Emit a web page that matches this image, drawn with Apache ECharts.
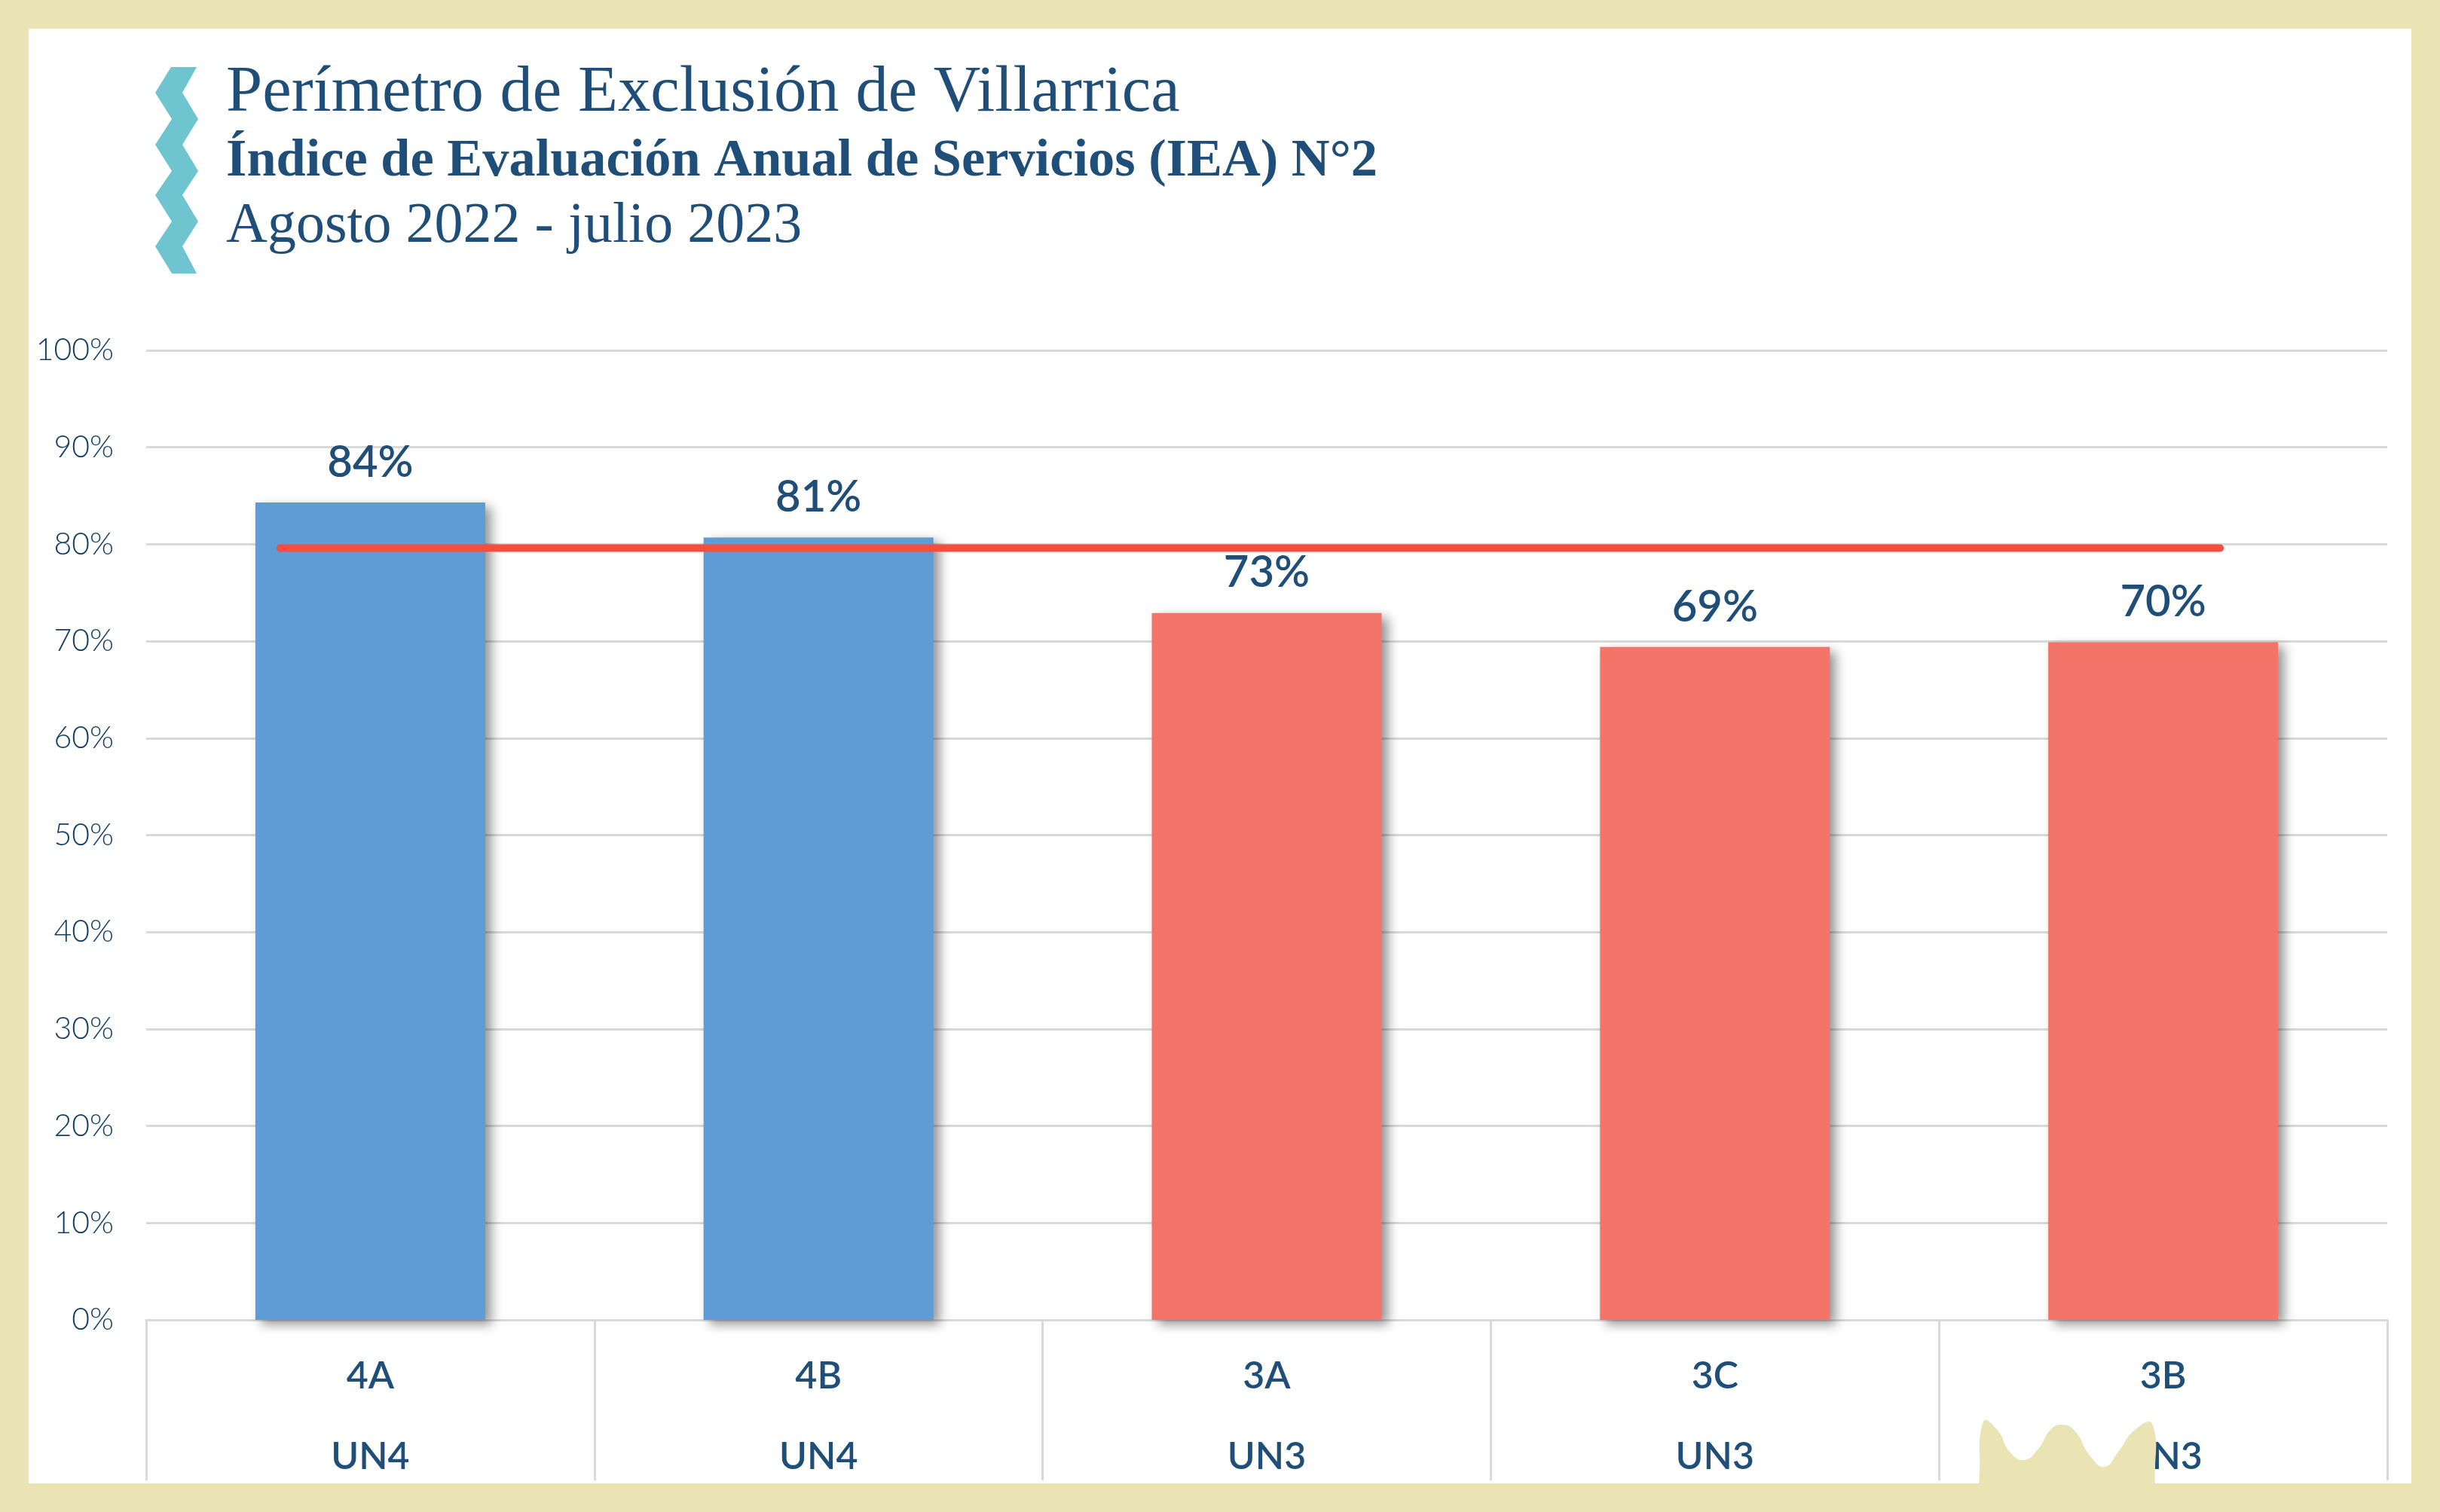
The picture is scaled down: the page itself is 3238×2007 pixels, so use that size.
<!DOCTYPE html>
<html>
<head>
<meta charset="utf-8">
<title>IEA Villarrica</title>
<script src="https://cdn.jsdelivr.net/npm/echarts@6/dist/echarts.min.js"></script>
<style>
html, body { margin: 0; padding: 0; background: #EAE4B5; }
#main { width: 3238px; height: 2007px; }
</style>
</head>
<body>
<div id="main"></div>
<script type="text/javascript">
var titleLines = ['Perímetro de Exclusión de Villarrica', 'Índice de Evaluación Anual de Servicios (IEA) N°2', 'Agosto 2022 - julio 2023'];
var zones = ['4A', '4B', '3A', '3C', '3B'];
var units = ['UN4', 'UN4', 'UN3', 'UN3', 'UN3'];
var iea = [84.3, 80.7, 72.9, 69.4, 69.9];
var targetX = [0.299, 4.627];
var targetY = [79.6, 79.6];

var BLUE = '#5F9BD4', RED = '#F3756A', NAVY = '#1F4E79', GRID = '#D9D9D9', BEIGE = '#EAE4B5';
var SANS = 'Lato, "Noto Sans", sans-serif', SERIF = '"Liberation Serif", serif';

var myChart = echarts.init(document.getElementById('main'), null, { renderer: 'canvas' });

var targetData = [];
for (var i = 0; i < targetX.length; i++) {
	targetData.push([targetX[i], targetY[i]]);
}

var option = {
	backgroundColor: BEIGE,
	animation: false,
	title: [
		{ text: titleLines[0], left: 295, top: 76, textStyle: { color: NAVY, fontFamily: SERIF, fontSize: 86.7, fontWeight: 'normal' } },
		{ text: titleLines[1], left: 295, top: 175, textStyle: { color: NAVY, fontFamily: SERIF, fontSize: 70.4, fontWeight: 'bold' } },
		{ text: titleLines[2], left: 295, top: 258, textStyle: { color: NAVY, fontFamily: SERIF, fontSize: 76, fontWeight: 'normal' } }
	],
	grid: { left: 194, right: 70, top: 465, bottom: 255 },
	xAxis: [
		{
			type: 'category',
			data: zones,
			axisLine: { lineStyle: { color: GRID, width: 3 } },
			axisTick: { show: true, length: 213, lineStyle: { color: GRID, width: 3 } },
			axisLabel: { color: NAVY, fontFamily: SANS, fontSize: 50, fontWeight: 600, margin: 50 }
		},
		{
			type: 'category',
			position: 'bottom',
			data: units,
			axisLine: { show: false },
			axisTick: { show: false },
			axisLabel: { color: NAVY, fontFamily: SANS, fontSize: 50, fontWeight: 600, margin: 157, interval: 0 }
		},
		{ type: 'value', min: 0, max: 5, show: false }
	],
	yAxis: {
		type: 'value',
		min: 0,
		max: 100,
		interval: 10,
		axisLine: { show: false },
		axisTick: { show: false },
		axisLabel: { formatter: '{value}%', color: '#123F68', fontFamily: SANS, fontSize: 41, fontWeight: 300, margin: 43, padding: [5, 0, 0, 0] },
		splitLine: { lineStyle: { color: GRID, width: 3 } }
	},
	series: [
		{
			name: 'IEA',
			type: 'bar',
			xAxisIndex: 0,
			barWidth: 305,
			data: iea,
			itemStyle: {
				color: function (p) { return units[p.dataIndex] === 'UN4' ? BLUE : RED; },
				shadowColor: 'rgba(0,0,0,0.42)',
				shadowBlur: 14,
				shadowOffsetX: 8,
				shadowOffsetY: 6
			},
			label: {
				show: true,
				position: 'top',
				distance: 24,
				color: NAVY,
				fontFamily: SANS,
				fontSize: 58,
				fontWeight: 600,
				formatter: function (p) { return Math.round(p.value) + '%'; }
			}
		},
		{
			name: 'Meta',
			type: 'line',
			xAxisIndex: 2,
			data: targetData,
			showSymbol: false,
			z: 5,
			lineStyle: { color: '#F44E3F', width: 10, cap: 'round' }
		}
	],
	graphic: {
		elements: [
			{
				type: 'rect', z: -10, silent: true,
				shape: { x: 38, y: 38, width: 3162, height: 1931 },
				style: { fill: '#FFFFFF' }
			},
			{
				// cinta de la izquierda
				type: 'polygon', z: 10, silent: true,
				shape: { points: [[227, 89], [206, 123], [228, 158], [206, 192], [228, 227], [206, 259], [228, 294], [206, 327], [228, 363], [261, 363], [242, 327], [263, 294], [242, 259], [263, 227], [242, 192], [263, 158], [242, 123], [261, 89]] },
				style: { fill: '#6EC5D0' }
			},
			{
				// mancha del borde inferior, tapa parte de UN3
				type: 'polygon', z: 100, silent: true,
				shape: {
					smooth: 0.5,
					points: [[2632, 1887], [2651, 1899], [2667, 1927], [2686, 1938], [2705, 1923], [2721, 1898], [2736, 1891], [2753, 1899], [2774, 1933], [2793, 1947], [2811, 1927], [2833, 1898], [2856, 1890], [2860, 1969], [2860, 1983], [2622, 1983], [2626, 1969]]
				},
				style: { fill: BEIGE }
			}
		]
	}
};

myChart.setOption(option);
</script>
</body>
</html>
